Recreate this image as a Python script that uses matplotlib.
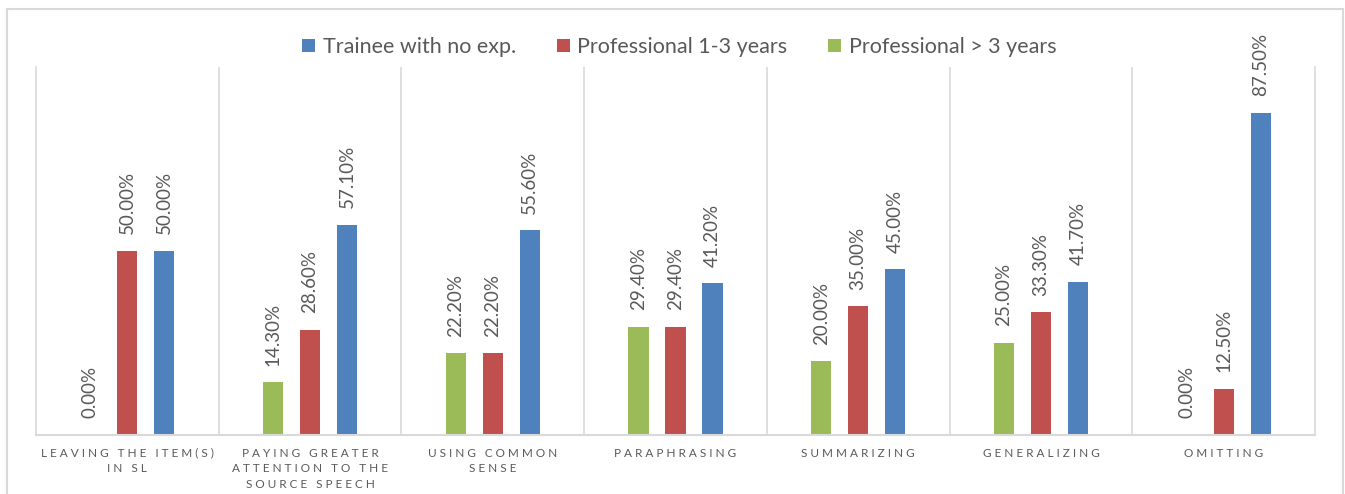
import matplotlib.pyplot as plt
from matplotlib.patches import Rectangle
import numpy as np

categories = [
    "LEAVING THE ITEM(S)\nIN SL",
    "PAYING GREATER\nATTENTION TO THE\nSOURCE SPEECH",
    "USING COMMON\nSENSE",
    "PARAPHRASING",
    "SUMMARIZING",
    "GENERALIZING",
    "OMITTING",
]
series_names = ["Trainee with no exp.", "Professional 1-3 years", "Professional > 3 years"]
trainee = [50.0, 57.1, 55.6, 41.2, 45.0, 41.7, 87.5]
prof_1_3 = [50.0, 28.6, 22.2, 29.4, 35.0, 33.3, 12.5]
prof_3plus = [0.0, 14.3, 22.2, 29.4, 20.0, 25.0, 0.0]

colors = {"trainee": "#4F81BD", "p13": "#C0504D", "p3": "#9BBB59"}
text_gray = "#595959"
line_gray = "#D9D9D9"

plt.rcParams['font.family'] = ['Lato', 'DejaVu Sans']


def spaced(label):
    # wide tracking for the category captions
    return "\n".join("\u2005".join(line) for line in label.split("\n"))


fig = plt.figure(figsize=(13.45, 4.94), dpi=100)
ax = fig.add_axes([36 / 1345, 1 - 435 / 494, (1315 - 36) / 1345, (435 - 67) / 494])

x = np.arange(len(categories))
offset = 0.2025
width = 0.11

groups = [
    (prof_3plus, -offset, colors["p3"], series_names[2]),
    (prof_1_3, 0.0, colors["p13"], series_names[1]),
    (trainee, offset, colors["trainee"], series_names[0]),
]
handles = {}
for vals, dx, col, name in groups:
    bars = ax.bar(x + dx, np.array(vals) / 100, width=width, color=col, label=name)
    handles[name] = bars
    for xi, v in zip(x + dx, vals):
        ax.annotate(f"{v:.2f}%", (xi, v / 100), xytext=(0, 12), textcoords="offset points",
                    rotation=90, ha="center", va="bottom", fontsize=13.5, color=text_gray)

ax.set_xlim(-0.5, len(categories) - 0.5)
ax.set_ylim(0, 1)
ax.set_yticks([])
for b in np.arange(0.5, len(categories) - 0.5, 1.0):
    ax.axvline(b, color=line_gray, lw=1.2)
for side in ["left", "right"]:
    ax.spines[side].set_color(line_gray)
    ax.spines[side].set_linewidth(1.2)
ax.spines["top"].set_visible(False)
ax.spines["bottom"].set_color(line_gray)
ax.spines["bottom"].set_linewidth(1.5)

ax.set_xticks(x)
ax.set_xticklabels([spaced(c) for c in categories], fontsize=8.5, color=text_gray,
                   linespacing=1.55, va="top")
ax.tick_params(axis="x", length=0, pad=9)

fig.legend([handles[n] for n in series_names], series_names, loc="center",
           bbox_to_anchor=(0.505, 0.905), ncol=3, frameon=False, fontsize=15.5,
           labelcolor=text_gray, handlelength=0.6, handleheight=0.6,
           handletextpad=0.35, columnspacing=1.9)

# chart-area border
fig.patches.append(Rectangle((7 / 1345, -0.05), (1343 - 7) / 1345, 1.05 - 9 / 494,
                             transform=fig.transFigure, fill=False,
                             edgecolor=line_gray, lw=1.5))

fig.savefig("out.png", dpi=100)
